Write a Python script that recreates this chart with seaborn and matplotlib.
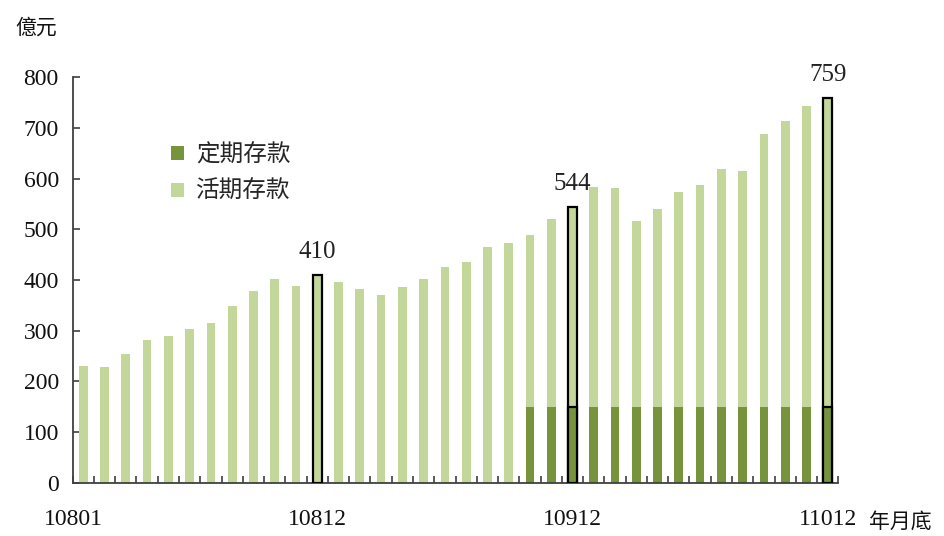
import matplotlib
matplotlib.use("Agg")
import matplotlib.pyplot as plt
import matplotlib.transforms as mtransforms
from matplotlib.patches import Patch
import numpy as np
import pandas as pd
import seaborn as sns

# Month-end periods (ROC year + month), 10801 .. 11012
months = [f"{y}{m:02d}" for y in (108, 109, 110) for m in range(1, 13)]

# Total deposits (億元) at each month end
totals = [230, 229, 253, 282, 290, 303, 315, 349, 378, 402, 388, 410,
          396, 383, 371, 387, 402, 426, 435, 466, 472, 488, 520, 544,
          583, 582, 517, 540, 574, 587, 620, 615, 689, 713, 743, 759]

# Time deposits (億元)
time_dep = [0] * 21 + [150] * 15

tick_months = ["10801", "10812", "10912", "11012"]
labelled_months = ["10812", "10912", "11012"]

dark = "#77933C"
light = "#C4D79B"
cjk = ["Noto Sans CJK TC", "DejaVu Sans"]
num_font = ["Liberation Serif", "DejaVu Serif"]

sns.set_style("white")
plt.rcParams["font.family"] = num_font

df = pd.DataFrame({"month": months, "total": totals, "time": time_dep})
df["demand"] = df["total"] - df["time"]

fig = plt.figure(figsize=(9.44, 5.36), dpi=100)
ax = fig.add_axes([0.077, 0.0995, 0.8111, 0.7563])

bar_w = 0.41
# stacked look: full total in light green, then time deposits from zero in dark green
sns.barplot(data=df, x="month", y="total", order=months, color=light,
            saturation=1, width=bar_w, ax=ax, linewidth=0)
n = len(months)
sns.barplot(data=df, x="month", y="time", order=months, color=dark,
            saturation=1, width=bar_w, ax=ax, linewidth=0)

# outline the year-end bars
for i, p in enumerate(ax.patches):
    m = months[i % n]
    if m in labelled_months and p.get_height() > 0:
        p.set_edgecolor("black")
        p.set_linewidth(1.6)
        p.set_zorder(3)

# year-end value labels
for m in labelled_months:
    i = months.index(m)
    v = totals[i]
    ax.text(i, v + 24, f"{v}", ha="center", va="bottom", fontsize=18,
            family=num_font, color="#222222", clip_on=False)

ax.set_xlim(-0.5, n - 0.5)
ax.set_ylim(0, 800)
ax.set_yticks(np.arange(0, 801, 100))
ax.set_xticks([months.index(m) for m in tick_months])
ax.set_xticklabels(tick_months)
ax.set_xticks(np.arange(-0.5, n, 1.0), minor=True)

ax.set_xlabel("")
ax.set_ylabel("")
for s in ("top", "right"):
    ax.spines[s].set_visible(False)
for s in ("left", "bottom"):
    ax.spines[s].set_color("#404040")
    ax.spines[s].set_linewidth(1.3)

ax.tick_params(axis="y", direction="in", length=5, width=1.2, color="#404040",
               labelsize=17, pad=10, left=True)
ax.tick_params(axis="x", which="major", length=0, labelsize=17, pad=19)
ax.tick_params(axis="x", which="minor", direction="in", length=5, width=1.2,
               color="#404040", bottom=True)
for lab in ax.get_xticklabels() + ax.get_yticklabels():
    lab.set_color("#111111")

# first period label sits slightly left of its bar
first = ax.get_xticklabels()[0]
first.set_transform(first.get_transform() +
                    mtransforms.ScaledTranslation(-10 / 100, 0, fig.dpi_scale_trans))

# unit labels
fig.text(0.016, 0.948, "億元", family=cjk, fontsize=15, ha="left", va="center",
         color="#111111")
fig.text(0.921, 0.026, "年月底", family=cjk, fontsize=15, ha="left", va="center",
         color="#111111")

handles = [Patch(facecolor=dark, edgecolor="none", label="定期存款"),
           Patch(facecolor=light, edgecolor="none", label="活期存款")]
leg = ax.legend(handles=handles, loc="upper left",
                bbox_to_anchor=(0.101, 0.89), frameon=False,
                prop={"family": cjk, "size": 17}, handlelength=0.55,
                handleheight=0.55, handletextpad=0.5, labelspacing=0.6)

fig.savefig("out.png", dpi=100)
